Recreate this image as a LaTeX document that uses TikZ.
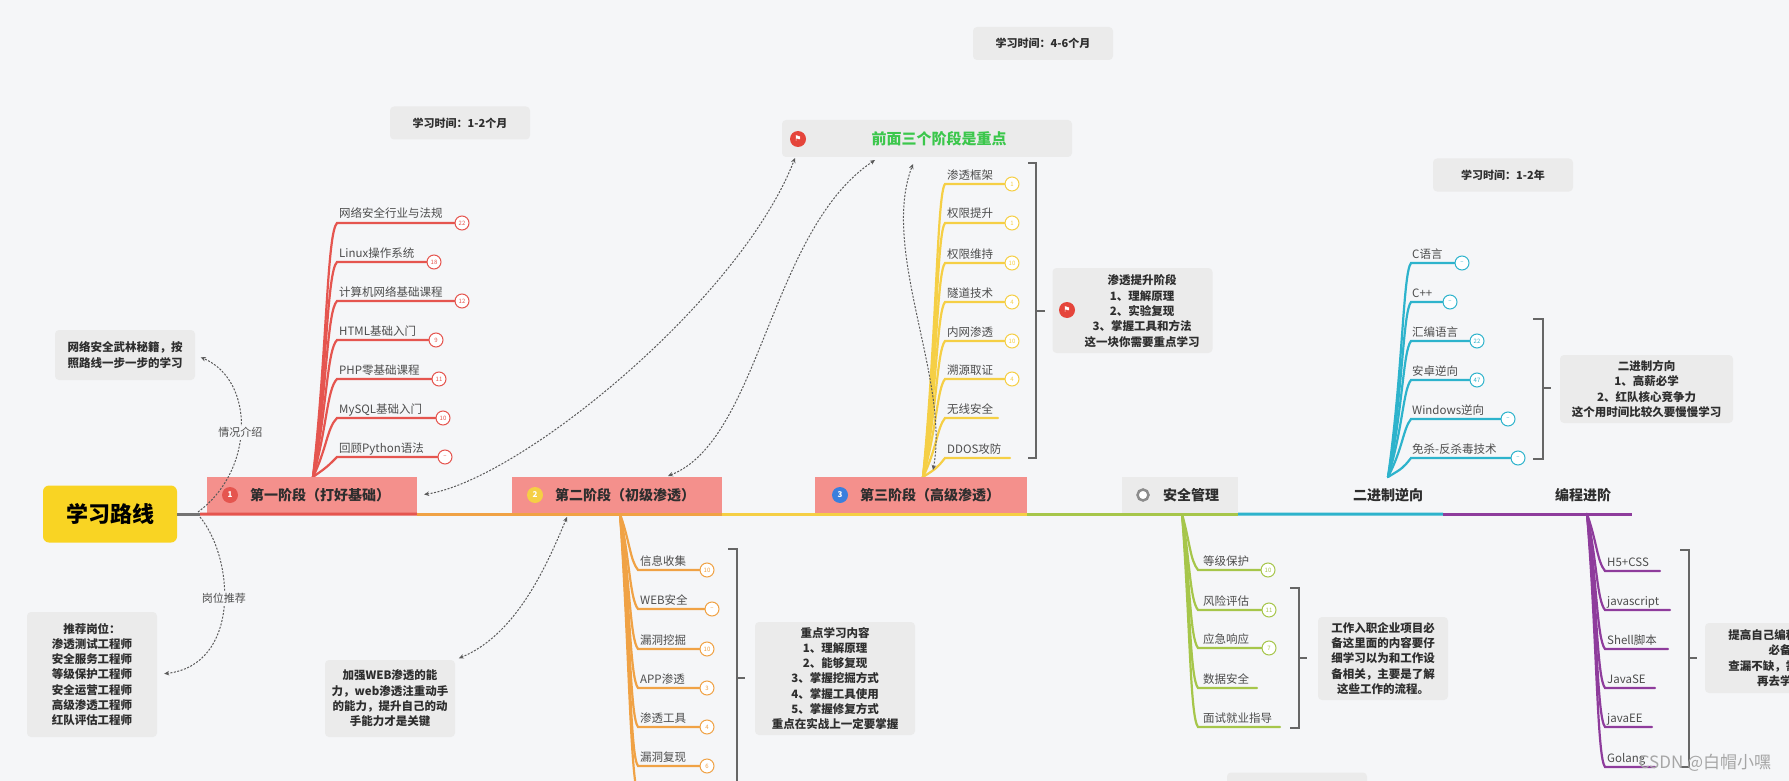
\documentclass[tikz,border=0pt]{standalone}
\usepackage{fontspec}
\setmainfont{Noto Sans CJK SC}
\newfontfamily\symfont{DejaVu Sans}
\usetikzlibrary{arrows.meta}

\definecolor{bg}{HTML}{F5F6F8}
\definecolor{boxgray}{HTML}{EBEBEB}
\definecolor{txtdark}{HTML}{2E2E2E}
\definecolor{itemgray}{HTML}{4D4D4D}
\definecolor{relgray}{HTML}{5A5A5A}
\definecolor{rootyellow}{HTML}{F9D423}
\definecolor{stagepink}{HTML}{F4908C}
\definecolor{keygreen}{HTML}{3CC74C}
\definecolor{flagred}{HTML}{E5453B}
\definecolor{cred}{HTML}{E5554F}
\definecolor{corange}{HTML}{F0A245}
\definecolor{cyellow}{HTML}{F5CF45}
\definecolor{cgreen}{HTML}{A6C64A}
\definecolor{ccyan}{HTML}{2DB3CC}
\definecolor{cpurple}{HTML}{8E3C9C}
\definecolor{cblue}{HTML}{3A7FDD}

\tikzset{
  notebox/.style={fill=boxgray, rounded corners=4pt, inner sep=0pt, align=center,
    text=txtdark, font=\fontsize{11.5}{15.3}\selectfont\bfseries},
  notetxt/.style={inner sep=0pt, align=center, text=txtdark,
    font=\fontsize{11.5}{15.3}\selectfont\bfseries},
  timebox/.style={notebox, minimum width=140, minimum height=33,
    font=\fontsize{11}{13}\selectfont\bfseries},
  rootbox/.style={fill=rootyellow, rounded corners=6pt, minimum width=134,
    minimum height=57, inner sep=0pt, text=black, font=\fontsize{22}{26}\selectfont\bfseries},
  stagebox/.style={fill=stagepink, minimum width=210, minimum height=37, inner sep=0pt},
  stagetxt/.style={inner sep=0pt, text=txtdark, font=\fontsize{14}{16}\selectfont\bfseries},
  stagedot/.style={circle, fill=#1, minimum size=16, inner sep=0pt, text=white,
    font=\fontsize{8}{8}\selectfont\bfseries},
  flagdot/.style={circle, fill=flagred, minimum size=16, inner sep=0pt, text=white,
    font=\symfont\fontsize{8}{8}\selectfont},
  itemtxt/.style={anchor=base west, inner sep=0pt, text=itemgray,
    font=\fontsize{11.5}{13}\selectfont},
  badge/.style={circle, draw=#1, fill=white, line width=1pt, minimum size=14,
    inner sep=0pt, text=#1, font=\fontsize{6}{6}\selectfont},
  branch/.style={draw=#1, line width=2.2pt, line cap=round},
  mainline/.style={draw=#1, line width=3pt},
  bracket/.style={draw=black!60, line width=1.3pt},
  rel/.style={draw=relgray, line width=1pt, dash pattern=on 2pt off 1.5pt,
    arrows={-Stealth[length=5pt,width=4.5pt]}},
  rellabel/.style={fill=bg, inner sep=2pt, text=itemgray, font=\fontsize{11}{13}\selectfont}
}

\begin{document}
\begin{tikzpicture}[x=1pt,y=-1pt]
\useasboundingbox (0,0) rectangle (1789,781);
\fill[bg] (0,0) rectangle (1789,781);

\node[timebox] (time1) at (460,123) {学习时间：1-2个月};
\node[timebox] (time2) at (1043,43.5) {学习时间：4-6个月};
\node[timebox] (time3) at (1503,175) {学习时间：1-2年};
\node[notebox, minimum width=140, minimum height=33] (time4) at (1297,789) {};

\node[notebox, minimum width=140, minimum height=50] (intro) at (125,355) {网络安全武林秘籍，按\\照路线一步一步的学习};
\node[notebox, minimum width=130, minimum height=125] (jobs) at (92,674.5) {推荐岗位：\\渗透测试工程师\\安全服务工程师\\等级保护工程师\\安全运营工程师\\高级渗透工程师\\红队评估工程师};
\node[notebox, minimum width=130, minimum height=77] (web) at (390,698.5) {加强WEB渗透的能\\力，web渗透注重动手\\的能力，提升自己的动\\手能力才是关键};
\node[notebox, minimum width=160, minimum height=113] (s2note) at (835,678.5) {重点学习内容\\1、理解原理\\2、能够复现\\3、掌握挖掘方式\\4、掌握工具使用\\5、掌握修复方式\\重点在实战上一定要掌握};
\node[notebox, minimum width=160, minimum height=85] (s3note) at (1132.5,310.5) {};
\node[notetxt] (s3notet) at (1142,311) {渗透提升阶段\\1、理解原理\\2、实验复现\\3、掌握工具和方法\\这一块你需要重点学习};
\node[flagdot] (s3flag) at (1067,310) {⚑};
\node[notebox, minimum width=130, minimum height=83] (secnote) at (1383,658.5) {工作入职企业项目必\\备这里面的内容要仔\\细学习以为和工作设\\备相关，主要是了解\\这些工作的流程。};
\node[notebox, minimum width=173, minimum height=68] (binnote) at (1646.5,389) {二进制方向\\1、高薪必学\\2、红队核心竞争力\\这个用时间比较久要慢慢学习};
\node[notebox, minimum width=150, minimum height=70] (prognote) at (1780,658) {提高自己编程能力的\\必备\\查漏不缺，需要什么\\再去学习};

\node[notebox, minimum width=290, minimum height=37] (key) at (927,138.5) {};
\node[inner sep=0pt, text=keygreen, font=\fontsize{15}{17}\selectfont\bfseries] (keyt) at (939,139) {前面三个阶段是重点};
\node[flagdot] (keyflag) at (798,139) {⚑};

\coordinate (s1o) at (313,477);
\node[badge=cred] (r1) at (462,223) {22};
\node[badge=cred] (r2) at (434,262) {18};
\node[badge=cred] (r3) at (462,301) {12};
\node[badge=cred] (r4) at (436,340) {9};
\node[badge=cred] (r5) at (439,379) {11};
\node[badge=cred] (r6) at (443,418) {10};
\node[badge=cred] (r7) at (445,457) {–};
\draw[branch=cred] (s1o) .. controls (327,350) and (327,233) .. (337,223) -- (r1);
\draw[branch=cred] (s1o) .. controls (327,370) and (327,272) .. (337,262) -- (r2);
\draw[branch=cred] (s1o) .. controls (327,389) and (327,311) .. (337,301) -- (r3);
\draw[branch=cred] (s1o) .. controls (327,408) and (327,350) .. (337,340) -- (r4);
\draw[branch=cred] (s1o) .. controls (327,428) and (327,389) .. (337,379) -- (r5);
\draw[branch=cred] (s1o) .. controls (327,448) and (327,428) .. (337,418) -- (r6);
\draw[branch=cred] (s1o) .. controls (327,467) and (327,467) .. (337,457) -- (r7);
\node[itemtxt] (r1t) at (339,218) {网络安全行业与法规};
\node[itemtxt] (r2t) at (339,257) {Linux操作系统};
\node[itemtxt] (r3t) at (339,296) {计算机网络基础课程};
\node[itemtxt] (r4t) at (339,335) {HTML基础入门};
\node[itemtxt] (r5t) at (339,374) {PHP零基础课程};
\node[itemtxt] (r6t) at (339,413) {MySQL基础入门};
\node[itemtxt] (r7t) at (339,452) {回顾Python语法};

\coordinate (s2o) at (620,514);
\coordinate (o7e) at (640,800);
\node[badge=corange] (o1) at (707,570) {10};
\node[badge=corange] (o2) at (712,609) {–};
\node[badge=corange] (o3) at (707,649) {10};
\node[badge=corange] (o4) at (707,688) {3};
\node[badge=corange] (o5) at (707,727) {4};
\node[badge=corange] (o6) at (707,766) {6};
\draw[branch=corange] (s2o) .. controls (630,542) and (630,560) .. (638,570) -- (o1);
\draw[branch=corange] (s2o) .. controls (630,562) and (630,599) .. (638,609) -- (o2);
\draw[branch=corange] (s2o) .. controls (630,582) and (630,639) .. (638,649) -- (o3);
\draw[branch=corange] (s2o) .. controls (630,601) and (630,678) .. (638,688) -- (o4);
\draw[branch=corange] (s2o) .. controls (630,620) and (630,717) .. (638,727) -- (o5);
\draw[branch=corange] (s2o) .. controls (630,640) and (630,756) .. (638,766) -- (o6);
\draw[branch=corange] (s2o) .. controls (630,660) and (630,790) .. (o7e);
\node[itemtxt] (o1t) at (640,565) {信息收集};
\node[itemtxt] (o2t) at (640,604) {WEB安全};
\node[itemtxt] (o3t) at (640,644) {漏洞挖掘};
\node[itemtxt] (o4t) at (640,683) {APP渗透};
\node[itemtxt] (o5t) at (640,722) {渗透工具};
\node[itemtxt] (o6t) at (640,761) {漏洞复现};

\coordinate (s3o) at (923,477);
\coordinate (y7e) at (998,418);
\coordinate (y8e) at (1010,458);
\node[badge=cyellow] (y1) at (1012,184) {1};
\node[badge=cyellow] (y2) at (1012,223) {1};
\node[badge=cyellow] (y3) at (1012,263) {10};
\node[badge=cyellow] (y4) at (1012,302) {4};
\node[badge=cyellow] (y5) at (1012,341) {10};
\node[badge=cyellow] (y6) at (1012,379) {4};
\draw[branch=cyellow] (s3o) .. controls (937,330) and (937,194) .. (945,184) -- (y1);
\draw[branch=cyellow] (s3o) .. controls (937,350) and (937,233) .. (945,223) -- (y2);
\draw[branch=cyellow] (s3o) .. controls (937,370) and (937,273) .. (945,263) -- (y3);
\draw[branch=cyellow] (s3o) .. controls (937,390) and (937,312) .. (945,302) -- (y4);
\draw[branch=cyellow] (s3o) .. controls (937,409) and (937,351) .. (945,341) -- (y5);
\draw[branch=cyellow] (s3o) .. controls (937,428) and (937,389) .. (945,379) -- (y6);
\draw[branch=cyellow] (s3o) .. controls (937,448) and (937,428) .. (945,418) -- (y7e);
\draw[branch=cyellow] (s3o) .. controls (937,468) and (937,468) .. (945,458) -- (y8e);
\node[itemtxt] (y1t) at (947,179) {渗透框架};
\node[itemtxt] (y2t) at (947,218) {权限提升};
\node[itemtxt] (y3t) at (947,258) {权限维持};
\node[itemtxt] (y4t) at (947,297) {隧道技术};
\node[itemtxt] (y5t) at (947,336) {内网渗透};
\node[itemtxt] (y6t) at (947,374) {溯源取证};
\node[itemtxt] (y7t) at (947,413) {无线安全};
\node[itemtxt] (y8t) at (947,453) {DDOS攻防};

\coordinate (seco) at (1182,514);
\coordinate (g4e) at (1257,688);
\coordinate (g5e) at (1280,727);
\node[badge=cgreen] (g1) at (1268,570) {10};
\node[badge=cgreen] (g2) at (1269,610) {11};
\node[badge=cgreen] (g3) at (1269,648) {7};
\draw[branch=cgreen] (seco) .. controls (1190,542) and (1190,560) .. (1198,570) -- (g1);
\draw[branch=cgreen] (seco) .. controls (1190,562) and (1190,600) .. (1198,610) -- (g2);
\draw[branch=cgreen] (seco) .. controls (1190,581) and (1190,638) .. (1198,648) -- (g3);
\draw[branch=cgreen] (seco) .. controls (1190,601) and (1190,678) .. (1198,688) -- (g4e);
\draw[branch=cgreen] (seco) .. controls (1190,620) and (1190,717) .. (1198,727) -- (g5e);
\node[itemtxt] (g1t) at (1203,565) {等级保护};
\node[itemtxt] (g2t) at (1203,605) {风险评估};
\node[itemtxt] (g3t) at (1203,643) {应急响应};
\node[itemtxt] (g4t) at (1203,683) {数据安全};
\node[itemtxt] (g5t) at (1203,722) {面试就业指导};

\coordinate (bino) at (1388,477);
\node[badge=ccyan] (c1) at (1462,263) {–};
\node[badge=ccyan] (c2) at (1450,302) {–};
\node[badge=ccyan] (c3) at (1477,341) {22};
\node[badge=ccyan] (c4) at (1477,380) {47};
\node[badge=ccyan] (c5) at (1508,419) {–};
\node[badge=ccyan] (c6) at (1518,458) {–};
\draw[branch=ccyan] (bino) .. controls (1403,370) and (1403,273) .. (1411,263) -- (c1);
\draw[branch=ccyan] (bino) .. controls (1403,390) and (1403,312) .. (1411,302) -- (c2);
\draw[branch=ccyan] (bino) .. controls (1403,409) and (1403,351) .. (1411,341) -- (c3);
\draw[branch=ccyan] (bino) .. controls (1403,428) and (1403,390) .. (1411,380) -- (c4);
\draw[branch=ccyan] (bino) .. controls (1403,448) and (1403,429) .. (1411,419) -- (c5);
\draw[branch=ccyan] (bino) .. controls (1403,468) and (1403,468) .. (1411,458) -- (c6);
\node[itemtxt] (c1t) at (1412,258) {C语言};
\node[itemtxt] (c2t) at (1412,297) {C++};
\node[itemtxt] (c3t) at (1412,336) {汇编语言};
\node[itemtxt] (c4t) at (1412,375) {安卓逆向};
\node[itemtxt] (c5t) at (1412,414) {Windows逆向};
\node[itemtxt] (c6t) at (1412,453) {免杀-反杀毒技术};

\coordinate (progo) at (1587,514);
\coordinate (p1e) at (1660,571);
\coordinate (p2e) at (1670,610);
\coordinate (p3e) at (1668,649);
\coordinate (p4e) at (1655,688);
\coordinate (p5e) at (1652,727);
\coordinate (p6e) at (1655,767);
\draw[branch=cpurple] (progo) .. controls (1597,542) and (1597,561) .. (1605,571) -- (p1e);
\draw[branch=cpurple] (progo) .. controls (1597,562) and (1597,600) .. (1605,610) -- (p2e);
\draw[branch=cpurple] (progo) .. controls (1597,582) and (1597,639) .. (1605,649) -- (p3e);
\draw[branch=cpurple] (progo) .. controls (1597,601) and (1597,678) .. (1605,688) -- (p4e);
\draw[branch=cpurple] (progo) .. controls (1597,620) and (1597,717) .. (1605,727) -- (p5e);
\draw[branch=cpurple] (progo) .. controls (1597,640) and (1597,757) .. (1605,767) -- (p6e);
\node[itemtxt] (p1t) at (1607,566) {H5+CSS};
\node[itemtxt] (p2t) at (1607,605) {javascript};
\node[itemtxt] (p3t) at (1607,644) {Shell脚本};
\node[itemtxt] (p4t) at (1607,683) {JavaSE};
\node[itemtxt] (p5t) at (1607,722) {javaEE};
\node[itemtxt] (p6t) at (1607,762) {Golang};

\draw[bracket] (728,549) -- (737,549) -- (737,800) (737,678) -- (745,678);
\draw[bracket] (1028,163) -- (1036,163) -- (1036,458) -- (1028,458) (1036,311) -- (1045,311);
\draw[bracket] (1290,588) -- (1299,588) -- (1299,728) -- (1290,728) (1299,658) -- (1307,658);
\draw[bracket] (1533,319) -- (1543,319) -- (1543,459) -- (1533,459) (1543,388) -- (1551,388);
\draw[bracket] (1680,550) -- (1689,550) -- (1689,767) -- (1680,767) (1689,658) -- (1697,658);

\node[rootbox] (root) at (110,514) {学习路线};
\node[stagebox] (s1) at (312,495.5) {};
\node[stagebox] (s2) at (617,495.5) {};
\node[stagebox, minimum width=212] (s3) at (921,495.5) {};
\node[stagebox, fill=boxgray, minimum width=116] (sec) at (1180,495.5) {};
\node[stagedot=cred] (s1i) at (230,495) {1};
\node[stagedot=cyellow] (s2i) at (535,495) {2};
\node[stagedot=cblue] (s3i) at (840,495) {3};
\node[circle, draw=black!45, line width=2.5pt, fill=white, minimum size=11, inner sep=0pt] (seci) at (1143,495) {};
\node[stagetxt] (s1t) at (320,495) {第一阶段（打好基础）};
\node[stagetxt] (s2t) at (625,495) {第二阶段（初级渗透）};
\node[stagetxt] (s3t) at (930,495) {第三阶段（高级渗透）};
\node[stagetxt] (sect) at (1191,495) {安全管理};
\node[stagetxt] (bint) at (1388,495) {二进制逆向};
\node[stagetxt] (progt) at (1583,495) {编程进阶};
\coordinate (binend) at (1443,514);
\coordinate (progend) at (1632,514);

\draw[mainline=black!55] (root.east) -- (200,514);
\draw[mainline=cred] (200,514) -- (s1.south east);
\draw[mainline=corange] (s1.south east) -- (s2.south east);
\draw[mainline=cyellow] (s2.south east) -- (s3.south east);
\draw[mainline=cgreen] (s3.south east) -- (sec.south east);
\draw[mainline=ccyan] (sec.south east) -- (binend);
\draw[mainline=cpurple] (binend) -- (progend);

\coordinate (relA) at (198,512);
\coordinate (relB) at (200,517);
\coordinate (relC) at (567,517);
\coordinate (relD) at (668,476);
\coordinate (relE) at (933,470);
\coordinate (keyA) at (795,158);
\coordinate (keyB) at (875,160);
\coordinate (keyC) at (913,164);
\draw[rel, shorten >=6pt] (relA) .. controls (255,470) and (255,380) .. node[rellabel, pos=0.47] (introl) {情况介绍} (intro.east);
\draw[rel, shorten >=7pt] (relB) .. controls (235,560) and (240,665) .. node[rellabel, pos=0.45] (jobsl) {岗位推荐} (jobs.east);
\draw[rel, {Stealth[length=5pt,width=4.5pt]}-{Stealth[length=5pt,width=4.5pt]}, shorten >=4pt] (relC) .. controls (545,570) and (515,635) .. (web.north east);
\draw[rel, {Stealth[length=5pt,width=4.5pt]}-{Stealth[length=5pt,width=4.5pt]}, shorten <=7pt] (s1.east) .. controls (520,480) and (740,300) .. (keyA);
\draw[rel, {Stealth[length=5pt,width=4.5pt]}-{Stealth[length=5pt,width=4.5pt]}] (relD) .. controls (760,440) and (770,230) .. (keyB);
\draw[rel, {Stealth[length=5pt,width=4.5pt]}-{Stealth[length=5pt,width=4.5pt]}] (relE) .. controls (950,380) and (880,250) .. (keyC);

\node[text=black!35, font=\fontsize{17}{17}\selectfont] (mark) at (1705,763) {CSDN @白帽小嘿};
\end{tikzpicture}
\end{document}
